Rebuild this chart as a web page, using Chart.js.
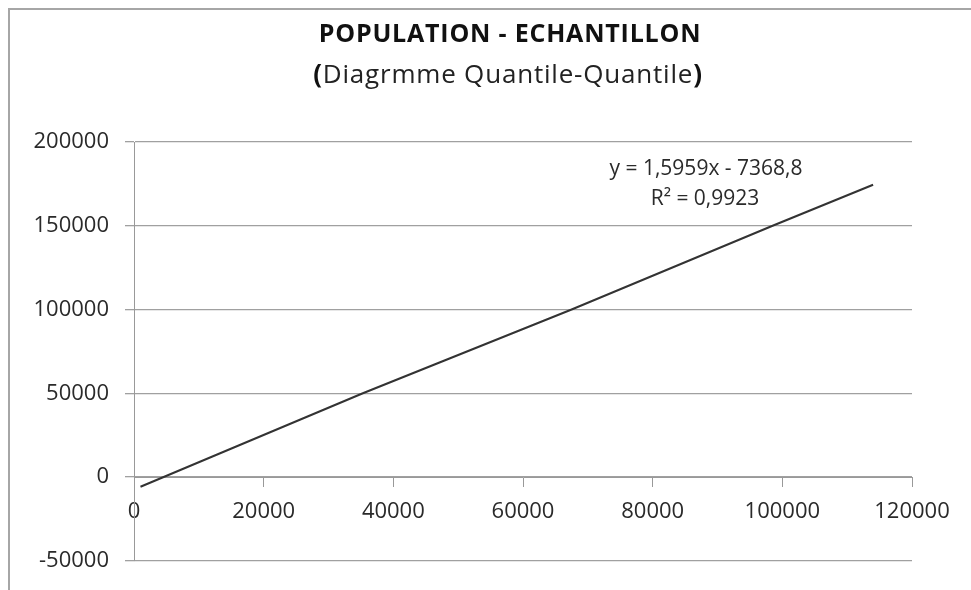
<!DOCTYPE html>
<html>
<head>
<meta charset="utf-8">
<script src="https://cdn.jsdelivr.net/npm/chart.js@4"></script>
<style>
  html, body { margin: 0; padding: 0; background: #fff; }
  #wrap { width: 971px; height: 590px; }
</style>
</head>
<body>
<div id="wrap"><canvas id="myChart"></canvas></div>
<script>
// values
let qqX = [1000, 35300, 67500, 98500, 114000];
let qqY = [-5800, 50000, 100000, 150000, 174500];
let xTicks = [0, 20000, 40000, 60000, 80000, 100000, 120000];
let yTicks = [-50000, 0, 50000, 100000, 150000, 200000];
let titleText = "POPULATION - ECHANTILLON";
let subtitleText = "Diagrmme Quantile-Quantile";
let trendText = ["y = 1,5959x - 7368,8", "R² = 0,9923"];

let FONT = "'Open Sans', sans-serif";

// frame, titles and trendline label
let excelDecor = {
    id: "excelDecor",
    beforeDraw: (chart) => {
        var ctx = chart.ctx;
        ctx.save();
        ctx.strokeStyle = "#a6a6a6";
        ctx.lineWidth = 2;
        ctx.beginPath();
        ctx.moveTo(9, 590);
        ctx.lineTo(9, 9);
        ctx.lineTo(971, 9);
        ctx.stroke();
        ctx.restore();
    },
    afterDraw: (chart) => {
        var ctx = chart.ctx;
        ctx.save();
        ctx.textBaseline = "middle";
        ctx.fillStyle = "#111";
        ctx.textAlign = "center";
        ctx.font = "bold 25px " + FONT;
        ctx.letterSpacing = "0.8px";
        ctx.fillText(titleText, 510, 35);

        // subtitle: bold parentheses, normal inner text
        ctx.letterSpacing = "0.8px";
        ctx.textAlign = "left";
        ctx.font = "26px " + FONT;
        var inner = ctx.measureText(subtitleText).width;
        ctx.font = "bold 26px " + FONT;
        var par = ctx.measureText("(").width;
        var total = inner + 2 * par;
        var x0 = 508 - total / 2;
        ctx.fillText("(", x0, 76);
        ctx.fillText(")", x0 + par + inner, 76);
        ctx.font = "26px " + FONT;
        ctx.fillStyle = "#222";
        ctx.fillText(subtitleText, x0 + par, 76);

        ctx.letterSpacing = "0px";
        ctx.textAlign = "center";
        ctx.font = "21px " + FONT;
        ctx.fillStyle = "#2a2a2a";
        ctx.fillText(trendText[0], 706, 169);
        ctx.fillText(trendText[1], 705, 199);
        ctx.restore();
    },
};

let points = qqX.map((x, i) => ({ x: x, y: qqY[i] }));

var ctx = document.getElementById("myChart").getContext("2d");
var myChart = new Chart(ctx, {
    type: "scatter",
    data: {
        datasets: [
            {
                label: "Quantiles",
                data: points,
                showLine: true,
                borderColor: "#333",
                borderWidth: 2,
                pointRadius: 0,
                fill: false,
            },
        ],
    },
    options: {
        responsive: true,
        maintainAspectRatio: false,
        animation: false,
        layout: {
            padding: { left: 0, top: 142, right: 59, bottom: 28 },
        },
        plugins: {
            legend: { display: false },
            title: { display: false },
            tooltip: { enabled: false },
        },
        scales: {
            x: {
                type: "linear",
                position: { y: 0 },
                min: 0,
                max: 120000,
                afterBuildTicks: (scale) => {
                    scale.ticks = xTicks.map((v) => ({ value: v }));
                },
                ticks: {
                    callback: (v) => String(v),
                    color: "#2a2a2a",
                    font: { family: FONT, size: 22 },
                    padding: 12,
                    maxRotation: 0,
                },
                grid: {
                    drawOnChartArea: false,
                    tickLength: 9,
                    color: "#999",
                },
                border: { color: "#999", width: 1 },
            },
            y: {
                type: "linear",
                position: "left",
                min: -50000,
                max: 200000,
                afterBuildTicks: (scale) => {
                    scale.ticks = yTicks.map((v) => ({ value: v }));
                },
                afterFit: (scale) => {
                    scale.width = 134;
                },
                ticks: {
                    callback: (v) => String(v),
                    color: "#2a2a2a",
                    font: { family: FONT, size: 22 },
                    padding: 16,
                },
                grid: {
                    tickLength: 9,
                    color: "#a0a0a0",
                    lineWidth: 1.3,
                },
                border: { color: "#999", width: 1 },
            },
        },
    },
    plugins: [excelDecor],
});
</script>
</body>
</html>
